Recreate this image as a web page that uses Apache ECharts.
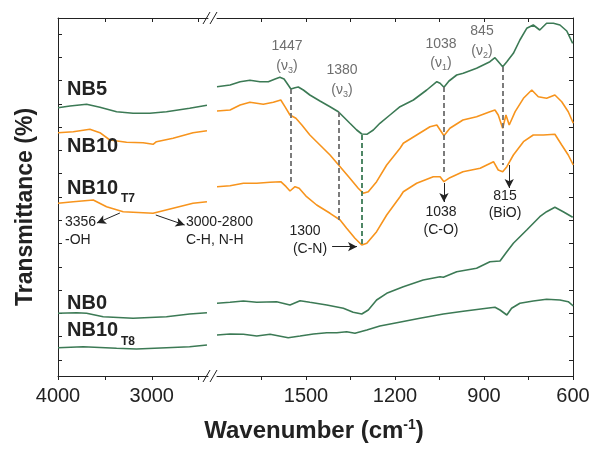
<!DOCTYPE html>
<html>
<head>
<meta charset="utf-8">
<script src="https://cdn.jsdelivr.net/npm/echarts@6/dist/echarts.min.js"></script>
<style>html,body{margin:0;padding:0;background:#fff}#c{width:593px;height:450px}</style>
</head>
<body>
<div id="c"></div>
<script>
// ---- data (wavenumber cm-1, transmittance in arbitrary offset units) ----
const nb5Left = [[4000,268.3],[3872,270],[3695,271.7],[3553,268.7],[3375,264.3],[3199,262.7],[3021,262.7],[2843,264.3],[2596,267.7],[2411,270.7]];
const nb10Left = [[4000,243.3],[3837,244.3],[3660,246.7],[3553,243.3],[3447,236],[3269,233.7],[3092,233.3],[2986,231.7],[2950,234.3],[2773,237.7],[2560,243.3],[2411,245.3]];
const nb10t7Left = [[4000,172.7],[3837,174.3],[3624,176],[3482,169.3],[3305,164.3],[3092,163.3],[2986,162.7],[2773,167.7],[2560,172.7],[2411,174.3]];
const nb0Left = [[4000,62.7],[3801,63.3],[3695,62.7],[3518,59.3],[3199,57.7],[2843,59.3],[2596,62],[2411,63.3]];
const nb10t8Left = [[4000,28.3],[3731,29.3],[3375,27.7],[3163,27],[2843,28.3],[2596,29.3],[2411,31]];

const nb5Right = [[1800,289.3],[1756,291],[1722,294.3],[1689,295.7],[1655,294.3],[1627,294.3],[1604,297],[1588,298.7],[1574,297],[1560,291],[1551,287],[1537,288.3],[1526,289],[1509,286],[1487,281],[1453,275],[1419,269.3],[1391,264.3],[1374,259.3],[1352,252.7],[1329,246],[1312,242],[1295,241.7],[1273,246],[1251,252.7],[1217,261],[1183,269.3],[1138,276],[1093,286],[1059,294.3],[1048,292.7],[1035,288.7],[1018,295],[992,301],[970,302.7],[925,307.7],[880,314.3],[863,318.3],[837,309.3],[823,314.3],[801,322.7],[779,336],[756,347.7],[734,351],[712,346],[689,352.7],[666,352.7],[644,351],[621,345],[601,332.7]];
const nb10Right = [[1800,265],[1756,266],[1722,271],[1689,273.7],[1644,271.7],[1610,273.7],[1585,276],[1571,269.3],[1554,261],[1534,257.7],[1514,251],[1487,241],[1453,231],[1419,221],[1385,209.3],[1352,197.7],[1324,187.7],[1307,182.7],[1290,184.3],[1262,194.3],[1228,211],[1183,227.7],[1172,232.7],[1127,241],[1082,249.3],[1059,251],[1035,240.3],[1015,247.7],[971,256],[925,259.3],[880,264.3],[863,266],[852,261],[837,247.7],[826,261],[815,251],[795,264.3],[767,277.7],[739,286],[717,279.3],[689,277.7],[661,281],[638,274.3],[616,264.3],[599,252.7]];
const nb10t7Right = [[1800,189.3],[1756,190.3],[1711,192.7],[1666,192.7],[1621,193.7],[1585,194.3],[1567,189.3],[1554,185],[1537,189.3],[1523,187.7],[1498,179.3],[1464,171],[1419,162.7],[1385,156],[1363,147.7],[1335,137.7],[1312,131],[1295,132.7],[1262,144.3],[1228,161],[1183,179.3],[1172,184.3],[1127,192.7],[1071,199.3],[1048,199.3],[1035,194.3],[1015,198.3],[971,204.3],[913,207.7],[868,214.3],[852,206],[837,204.3],[823,209.3],[801,221],[767,234.3],[734,241],[700,241],[661,241.7],[638,231],[616,221],[599,211]];
const nb0Right = [[1800,72.7],[1756,73.7],[1711,75],[1666,73.7],[1599,74.3],[1554,71],[1520,75.3],[1487,73.7],[1430,71],[1374,67.7],[1341,63.7],[1312,62],[1290,66],[1262,76],[1228,82.7],[1172,89.3],[1105,96],[1048,99.3],[1037,98.7],[992,104.3],[925,107.7],[880,114.3],[846,115],[823,124.3],[801,132.7],[756,146],[712,159.3],[689,164.3],[661,168.7],[633,164.3],[601,158.7]];
const nb10t8Right = [[1800,41],[1756,42],[1711,41.7],[1666,40],[1621,41.7],[1560,38.3],[1520,40],[1475,42],[1430,43.3],[1396,43.3],[1363,44.3],[1335,42.7],[1295,46],[1251,50],[1194,53.3],[1116,57.7],[1037,62],[970,64.7],[891,67.7],[863,68.7],[846,66],[823,61],[807,67.7],[779,72.7],[734,75],[689,76.7],[644,76],[616,74.3],[599,70]];

// reference lines (dashed) : [wavenumber, yFrom, yTo]
const grayDashes = [[1551,287,194],[1388,264,156],[1035,289,204],[837,309,211]];
const greenDashes = [[1312,241,131]];
// arrows: [[x1,y1],[x2,y2]]
const arrowsRight = [[[1412,129.3],[1328,129.3]],[[1035,193],[1035,174]],[[815,211],[815,188]]];
const arrowsLeft = [[[3340,163],[3585,153]],[[2957,161],[2649,151]]];

// tick labels/positions
const leftTicks = [2500,3000,3500,4000];
const leftLabels = [3000,4000];
const rightTicks = [600,750,900,1050,1200,1350,1500,1650];
const rightLabels = [600,900,1200,1500];
const yTicks = [16,39.3,62.6,85.9,109.2,132.5,155.7,179,202.3,225.6,248.9,272.2,295.5,318.8,342];

const GREEN = '#3c7a55', ORANGE = '#f7941d', GRAY = '#6e6e6e';
const FONT = '"Liberation Sans", Arial, Helvetica, sans-serif';

const chart = echarts.init(document.getElementById('c'), null, {renderer:'canvas'});

function xAx(grid, pos, min, max, ticks, labels) {
  const bottom = pos === 'bottom';
  return {
    type:'value', gridIndex:grid, position:pos, min:min, max:max, inverse:true,
    axisLine:{show:true, onZero:false, lineStyle:{color:'#222', width:1}},
    axisTick:{show:true, inside:!bottom, length:4, customValues:ticks, lineStyle:{color:'#222'}},
    axisLabel:{show:bottom, customValues:labels, fontSize:20, color:'#222', fontFamily:FONT, margin:10,
      formatter:function(v){ return String(v); }},
    splitLine:{show:false}
  };
}
function yAx(grid, pos) {
  return {
    type:'value', gridIndex:grid, position:pos, min:0, max:358,
    axisLine:{show:true, onZero:false, lineStyle:{color:'#222', width:1}},
    axisTick:{show:true, inside:true, length:4, customValues:yTicks, lineStyle:{color:'#222'}},
    axisLabel:{show:false}, splitLine:{show:false}
  };
}
function ser(name, xi, data, color, extra) {
  return Object.assign({
    name:name, type:'line', xAxisIndex:xi, yAxisIndex:xi<2?0:1, data:data,
    showSymbol:false, symbol:'none', smooth:false, z:3,
    lineStyle:{color:color, width:1.6}
  }, extra||{});
}
function dashPairs(list, color) {
  return list.map(d => [
    {coord:[d[0],d[1]], symbol:'none', lineStyle:{color:color, type:[5,3], width:1.8}},
    {coord:[d[0],d[2]], symbol:'none', lineStyle:{color:color, type:[5,3], width:1.8}}
  ]);
}
function arrowPairs(list) {
  return list.map(a => [
    {coord:a[0], symbol:'none', lineStyle:{color:'#222', type:'solid', width:1}},
    {coord:a[1], symbol:'arrow', symbolSize:[7,9], lineStyle:{color:'#222', type:'solid', width:1}}
  ]);
}
const mlBase = {silent:true, animation:false, label:{show:false}, emphasis:{disabled:true}, symbol:['none','none']};

function txt(x, y, text, size, color, align, bold) {
  return {type:'text', x:x, y:y, z:10, style:{text:text, fill:color, align:align||'center', verticalAlign:'middle',
    font:(bold?'bold ':'') + size + 'px ' + FONT}};
}
function nu(x, y, n) {
  return {type:'text', x:x, y:y, z:10, style:{
    text:'{m|(ν}{s|' + n + '}{m|)}', align:'center', verticalAlign:'middle',
    rich:{m:{fontSize:14, fontFamily:FONT, fill:GRAY, color:GRAY, lineHeight:18},
          s:{fontSize:9, fontFamily:FONT, fill:GRAY, color:GRAY, lineHeight:9, verticalAlign:'bottom'}}}};
}

const graphics = [
  // axis break marks
  {type:'line', shape:{x1:203,y1:24,x2:210,y2:12}, style:{stroke:'#222', lineWidth:1}},
  {type:'line', shape:{x1:210,y1:24,x2:217,y2:12}, style:{stroke:'#222', lineWidth:1}},
  {type:'line', shape:{x1:203,y1:382,x2:210,y2:370}, style:{stroke:'#222', lineWidth:1}},
  {type:'line', shape:{x1:210,y1:382,x2:217,y2:370}, style:{stroke:'#222', lineWidth:1}},
  // series names
  txt(67, 89, 'NB5', 20, '#222', 'left', true),
  txt(67, 146, 'NB10', 20, '#222', 'left', true),
  txt(67, 188, 'NB10', 20, '#222', 'left', true),
  txt(121, 199, 'T7', 12, '#222', 'left', true),
  txt(67, 303, 'NB0', 20, '#222', 'left', true),
  txt(67, 330, 'NB10', 20, '#222', 'left', true),
  txt(121, 342, 'T8', 12, '#222', 'left', true),
  // gray band labels
  txt(287, 46, '1447', 14, GRAY), nu(287, 66, '3'),
  txt(342, 70, '1380', 14, GRAY), nu(342, 90, '3'),
  txt(441, 44, '1038', 14, GRAY), nu(441, 63, '1'),
  txt(482, 31, '845', 14, GRAY), nu(482, 51, '2'),
  // black labels
  txt(305, 231, '1300', 14, '#222'), txt(310, 249, '(C-N)', 14, '#222'),
  txt(441, 212, '1038', 14, '#222'), txt(441, 230, '(C-O)', 14, '#222'),
  txt(505, 196, '815', 14, '#222'), txt(505, 213, '(BiO)', 14, '#222'),
  txt(65, 222, '3356', 14, '#222', 'left'), txt(65, 240, '-OH', 14, '#222', 'left'),
  txt(186, 222, '3000-2800', 14, '#222', 'left'), txt(186, 240, 'C-H, N-H', 14, '#222', 'left'),
  // axis titles
  {type:'text', x:314, y:431, z:10, style:{text:'{t|Wavenumber (cm}{s|-1}{t|)}', align:'center', verticalAlign:'middle',
    rich:{t:{fontSize:24, fontWeight:'bold', fontFamily:FONT, fill:'#222', color:'#222', lineHeight:26},
          s:{fontSize:14, fontWeight:'bold', fontFamily:FONT, fill:'#222', color:'#222', lineHeight:14, verticalAlign:'top'}}}},
  {type:'text', x:26, y:207, rotation:Math.PI/2, z:10, style:{text:'Transmittance (%)', align:'center', verticalAlign:'middle',
    font:'bold 23px ' + FONT, fill:'#222'}}
];

const option = {
  animation:false,
  backgroundColor:'#fff',
  grid:[
    {left:58, top:18, width:150, height:358},
    {left:217, top:18, width:356, height:358}
  ],
  xAxis:[
    xAx(0,'bottom',2400,4000,leftTicks,leftLabels),
    xAx(0,'top',2400,4000,leftTicks,[]),
    xAx(1,'bottom',600,1800,rightTicks,rightLabels),
    xAx(1,'top',600,1800,rightTicks,[])
  ],
  yAxis:[ yAx(0,'left'), yAx(1,'right') ],
  series:[
    ser('NB5', 0, nb5Left, GREEN),
    ser('NB10', 0, nb10Left, ORANGE, {markLine:Object.assign({}, mlBase, {data:arrowPairs(arrowsLeft)})}),
    ser('NB10T7', 0, nb10t7Left, ORANGE),
    ser('NB0', 0, nb0Left, GREEN),
    ser('NB10T8', 0, nb10t8Left, GREEN),
    ser('NB5', 2, nb5Right, GREEN, {markLine:Object.assign({}, mlBase, {data:dashPairs(grayDashes, GRAY).concat(dashPairs(greenDashes, GREEN))})}),
    ser('NB10', 2, nb10Right, ORANGE, {markLine:Object.assign({}, mlBase, {data:arrowPairs(arrowsRight)})}),
    ser('NB10T7', 2, nb10t7Right, ORANGE),
    ser('NB0', 2, nb0Right, GREEN),
    ser('NB10T8', 2, nb10t8Right, GREEN)
  ],
  graphic:graphics
};
chart.setOption(option);
</script>
</body>
</html>
